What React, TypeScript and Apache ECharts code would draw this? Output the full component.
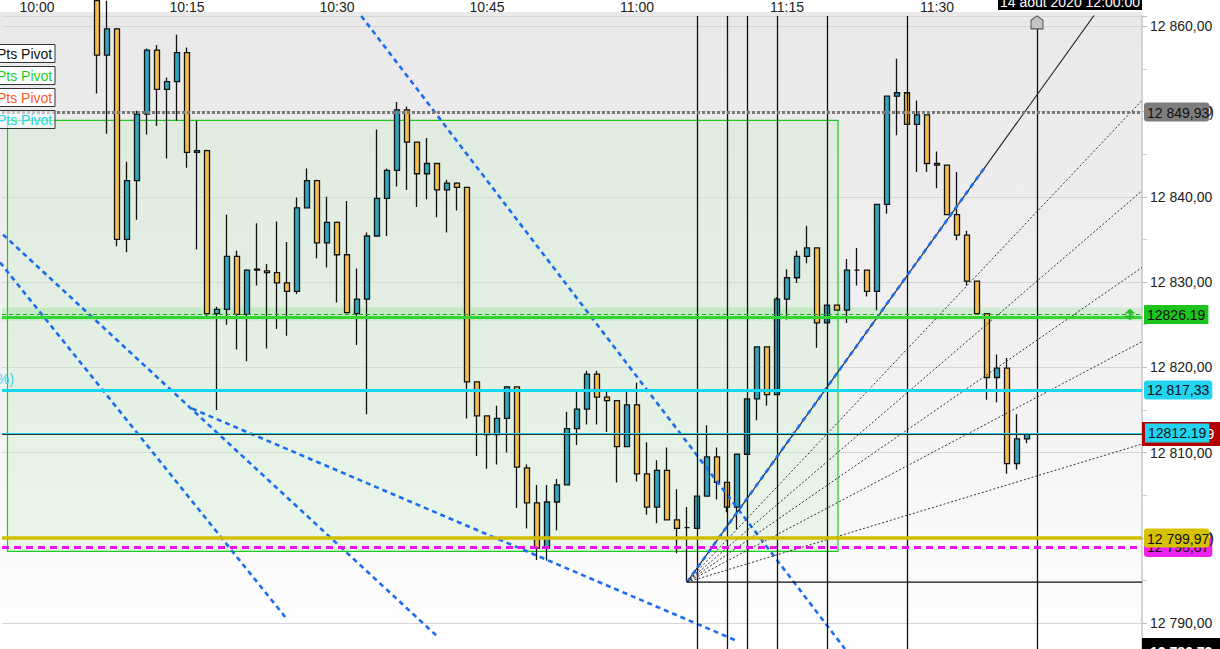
import React, { useEffect, useRef } from "react";
import * as echarts from "echarts";

const FONT = "'Liberation Sans', Arial, sans-serif";

// ---- time axis (minutes of the day) ----
const axisFirstMinute = 9 * 60 + 57;
const axisLastMinute = 11 * 60 + 50;
const candleFirstMinute = 10 * 60 + 6;
const timeLabels = ["10:00", "10:15", "10:30", "10:45", "11:00", "11:15", "11:30"];

// ---- 1-minute candles from 10:06 to 11:39 ----
const opens = [
  12863.0, 12856.6, 12859.7, 12835.0, 12841.9, 12849.7, 12857.2, 12852.6, 12853.5, 12856.9,
  12845.2, 12845.4, 12826.3, 12826.8, 12833.0, 12826.2, 12831.4, 12831.3, 12831.1, 12829.9,
  12828.9, 12838.7, 12841.9, 12834.6, 12837.0, 12833.2, 12826.3, 12828.0, 12835.4, 12839.8,
  12843.1, 12850.2, 12846.4, 12842.7, 12843.9, 12840.8, 12841.6, 12841.1, 12818.3, 12814.3,
  12812.1, 12814.0, 12817.7, 12808.2, 12804.1, 12798.8, 12804.2, 12806.2, 12812.8, 12815.1,
  12819.2, 12816.5, 12816.1, 12810.7, 12815.6, 12807.5, 12803.6, 12807.9, 12802.1, 12801.2,
  12801.1, 12804.9, 12809.5, 12806.5, 12803.6, 12809.8, 12816.3, 12822.4, 12816.8, 12828.0,
  12830.5, 12833.0, 12834.0, 12825.2, 12827.3, 12826.7, 12831.4, 12831.4, 12828.9, 12839.1,
  12851.8, 12852.2, 12848.5, 12849.6, 12843.9, 12843.7, 12837.9, 12835.5, 12830.1, 12826.3,
  12818.8, 12819.9, 12808.7, 12811.6,
];
const highs = [
  12865.0, 12863.0, 12859.8, 12844.1, 12850.1, 12857.4, 12857.8, 12854.0, 12859.0, 12857.5,
  12848.9, 12845.5, 12827.1, 12837.9, 12833.7, 12831.5, 12836.9, 12832.1, 12837.1, 12834.7,
  12839.9, 12843.3, 12842.0, 12840.0, 12837.1, 12839.5, 12831.6, 12835.8, 12847.9, 12843.3,
  12851.1, 12850.6, 12846.4, 12846.9, 12843.9, 12842.0, 12841.7, 12841.1, 12818.3, 12814.3,
  12815.5, 12817.8, 12817.7, 12808.6, 12806.2, 12806.2, 12806.9, 12814.8, 12817.3, 12819.6,
  12819.6, 12817.2, 12816.1, 12817.2, 12818.2, 12811.2, 12809.1, 12810.6, 12805.7, 12803.6,
  12804.9, 12813.2, 12810.6, 12806.5, 12809.8, 12816.3, 12822.4, 12822.4, 12828.2, 12831.5,
  12833.7, 12836.6, 12834.0, 12827.3, 12827.3, 12832.7, 12834.0, 12831.4, 12839.1, 12851.8,
  12856.2, 12852.2, 12851.3, 12849.6, 12845.3, 12843.7, 12842.9, 12836.0, 12830.1, 12826.3,
  12821.5, 12821.1, 12814.5, 12812.2,
];
const lows = [
  12852.1, 12847.4, 12834.2, 12833.5, 12837.3, 12847.3, 12848.3, 12844.5, 12848.9, 12843.4,
  12833.8, 12826.0, 12815.0, 12825.0, 12822.1, 12820.7, 12829.6, 12822.2, 12824.5, 12823.7,
  12828.6, 12838.7, 12832.8, 12831.7, 12827.6, 12826.3, 12822.6, 12814.5, 12835.4, 12835.4,
  12841.2, 12840.8, 12838.8, 12839.7, 12837.6, 12835.8, 12838.4, 12814.0, 12809.6, 12808.1,
  12808.6, 12810.0, 12803.5, 12801.1, 12797.4, 12797.3, 12800.9, 12806.2, 12810.9, 12813.3,
  12813.3, 12812.4, 12806.5, 12810.7, 12806.6, 12802.7, 12801.7, 12802.1, 12798.2, 12794.8,
  12801.1, 12804.9, 12804.5, 12803.0, 12801.0, 12809.8, 12813.8, 12815.5, 12816.8, 12825.6,
  12829.9, 12832.2, 12822.3, 12825.2, 12826.7, 12825.2, 12829.6, 12828.3, 12826.7, 12838.0,
  12847.2, 12848.5, 12842.9, 12842.9, 12841.0, 12837.9, 12834.9, 12829.6, 12826.3, 12816.2,
  12815.9, 12807.5, 12808.0, 12811.1,
];
const closes = [
  12856.6, 12859.7, 12835.0, 12841.9, 12849.7, 12857.2, 12852.6, 12853.5, 12856.9, 12845.2,
  12845.4, 12826.3, 12826.8, 12833.0, 12826.2, 12831.4, 12831.5, 12831.1, 12829.9, 12828.9,
  12838.7, 12841.9, 12834.6, 12837.0, 12833.2, 12826.4, 12828.0, 12835.4, 12839.8, 12843.1,
  12850.2, 12846.4, 12842.7, 12843.9, 12840.8, 12841.6, 12841.1, 12818.3, 12814.3, 12812.1,
  12814.0, 12817.7, 12808.3, 12804.1, 12798.8, 12804.2, 12806.2, 12812.8, 12815.1, 12819.2,
  12816.5, 12816.1, 12810.7, 12815.6, 12807.5, 12803.6, 12807.9, 12802.1, 12801.1, 12801.2,
  12804.9, 12809.5, 12806.5, 12803.6, 12809.8, 12816.3, 12822.4, 12816.8, 12828.0, 12830.5,
  12833.0, 12834.0, 12825.2, 12827.3, 12826.7, 12831.4, 12831.4, 12828.9, 12839.1, 12851.8,
  12852.2, 12848.5, 12849.6, 12843.9, 12843.7, 12837.9, 12835.5, 12830.1, 12826.3, 12818.8,
  12819.9, 12808.7, 12811.6, 12812.2,
];

// ---- price levels ----
const grayPivot = 12849.93;
const greenDashedLevel = 12826.19;
const greenSolidLevel = 12825.9;
const greenBand = [12825.5, 12827.0];
const cyanLevel = 12817.33;
const cyanThinLevel = 12812.3;
const lastPrice = 12812.19;
const yellowLevel = 12799.97;
const magentaLevel = 12798.87;
const bottomPrice = "12 786,73";
const dateLabel = "14 août 2020 12:00:00";

// ---- drawings (x in minutes after 10:00, y in price) ----
const greenBox = [[-2.95, 12848.96], [80.1, 12798.4]];
const blueLines = [
  [[32.43, 12861.2], [80.8, 12786.96]],
  [[-3.7, 12832.3], [25.0, 12790.45]],
  [[-3.4, 12835.56], [40.0, 12788.47]],
  [[15.5, 12815.16], [69.8, 12788.01]],
];
const fanOrigin = [65, 12794.8];
const fanBlueEnd = [94.9, 12843.64];
const fanMainEnd = [110.5, 12869.1];
const fanEndTime = 110.5;
const fanDottedEnds = [12851.3, 12840.7, 12831.7, 12823.0, 12811.0];
const fibTimes = [66, 69, 71, 74, 79, 87, 100];
const legendLabels = ["Pts Pivot", "Pts Pivot", "Pts Pivot", "Pts Pivot"];
const legendColors = ["#111111", "#1fcf1f", "#ff5a1f", "#22d6ee"];

// ---- axis extents ----
const yMin = 12786.96;
const yMax = 12861.2;
const xValueMin = -3.5;
const xValueMax = 110.5;

const pad = (n: number) => (n < 10 ? "0" + n : "" + n);
const fmtTime = (m: number) => `${Math.floor(m / 60)}:${pad(m % 60)}`;
const fmtPrice = (v: number) => {
  const [i, d] = v.toFixed(2).split(".");
  return i.replace(/\B(?=(\d{3})+(?!\d))/g, " ") + "," + d;
};

const categories: string[] = [];
for (let m = axisFirstMinute; m <= axisLastMinute; m++) categories.push(fmtTime(m));
const candleData = categories.map((_, i) => {
  const k = i - (candleFirstMinute - axisFirstMinute);
  return k >= 0 && k < opens.length ? [opens[k], closes[k], lows[k], highs[k]] : "-";
});

function lineSeries(points: number[][], lineStyle: any, z = 3) {
  return {
    type: "line",
    xAxisIndex: 1,
    yAxisIndex: 0,
    data: points,
    symbol: "none",
    silent: true,
    clip: true,
    z,
    lineStyle,
  };
}

function hLine(value: number, lineStyle: any, label: any, z: number) {
  return {
    type: "line",
    xAxisIndex: 1,
    yAxisIndex: 0,
    data: [],
    silent: true,
    markLine: {
      symbol: ["none", "none"],
      silent: true,
      animation: false,
      z,
      lineStyle,
      label: label
        ? { show: true, position: "end", distance: 2, fontFamily: FONT, fontSize: 14, ...label }
        : { show: false },
      data: [{ yAxis: value }],
    },
  };
}

export default function App() {
  const ref = useRef<HTMLDivElement>(null);
  useEffect(() => {
    const chart = echarts.init(ref.current!, null, { renderer: "svg" });
    const graphic: any[] = [];
    graphic.push({
      type: "rect",
      z: -10,
      silent: true,
      shape: { x: 0, y: 12, width: 1142, height: 637 },
      style: {
        fill: new echarts.graphic.LinearGradient(0, 0, 0, 1, [
          { offset: 0, color: "#e9e9e9" },
          { offset: 0.55, color: "#f1f1f1" },
          { offset: 1, color: "#ffffff" },
        ]),
      },
    });
    legendLabels.forEach((t, i) => {
      graphic.push({
        type: "rect",
        z: 100,
        shape: { x: -10, y: 44.5 + 22 * i, width: 65, height: 18 },
        style: { fill: i === 3 ? "rgba(255,255,255,0.55)" : "#ffffff", stroke: "#333", lineWidth: 1 },
      });
      graphic.push({
        type: "text",
        z: 101,
        x: -3,
        y: 53.5 + 22 * i,
        style: { text: t, fill: legendColors[i], font: `14px ${FONT}`, verticalAlign: "middle" },
      });
    });
    graphic.push({
      type: "text",
      z: 101,
      x: -3,
      y: 379,
      style: { text: "%)", fill: "#3fd6f0", font: `14px ${FONT}`, verticalAlign: "middle" },
    });
    graphic.push({ type: "rect", z: 100, shape: { x: 998, y: -10, width: 144, height: 20 }, style: { fill: "#000" } });
    graphic.push({
      type: "text",
      z: 101,
      x: 1070,
      y: 2,
      style: { text: dateLabel, fill: "#fff", font: `14px ${FONT}`, align: "center", verticalAlign: "middle" },
    });
    graphic.push({ type: "rect", z: 100, shape: { x: 1142, y: 638, width: 78, height: 22 }, style: { fill: "#000" } });
    graphic.push({
      type: "text",
      z: 101,
      x: 1150,
      y: 652,
      style: { text: bottomPrice, fill: "#fff", font: `bold 14px ${FONT}`, verticalAlign: "middle" },
    });

    const series: any[] = [
      {
        type: "line",
        xAxisIndex: 1,
        yAxisIndex: 0,
        data: [],
        silent: true,
        markArea: {
          silent: true,
          z: 1,
          data: [
            [
              { coord: greenBox[0], itemStyle: { color: "rgba(200,238,200,0.35)", borderColor: "#22c822", borderWidth: 1.2 } },
              { coord: greenBox[1] },
            ],
            [{ yAxis: greenBand[0], itemStyle: { color: "rgba(60,210,60,0.18)" } }, { yAxis: greenBand[1] }],
          ],
        },
      },
      {
        type: "candlestick",
        xAxisIndex: 0,
        yAxisIndex: 0,
        data: candleData,
        barWidth: 5,
        silent: true,
        z: 2,
        clip: true,
        itemStyle: {
          color: "#30a6bf",
          color0: "#f2bf4e",
          borderColor: "#111",
          borderColor0: "#111",
          borderWidth: 1.3,
        },
      },
      ...blueLines.map((pts) => lineSeries(pts, { color: "#1c6df0", width: 2.6, type: [5, 4] })),
      lineSeries([fanOrigin, fanMainEnd], { color: "#222", width: 1.1 }, 4),
      lineSeries([fanOrigin, fanBlueEnd], { color: "#1c6df0", width: 2.6, type: [5, 4] }, 4),
      ...fanDottedEnds.map((p) => lineSeries([fanOrigin, [fanEndTime, p]], { color: "#333", width: 1, type: [2, 2] }, 4)),
      lineSeries([fanOrigin, [fanEndTime, fanOrigin[1]]], { color: "#111", width: 1.2 }, 4),
      {
        type: "line",
        xAxisIndex: 1,
        yAxisIndex: 0,
        data: [],
        silent: true,
        markLine: {
          symbol: ["none", "none"],
          silent: true,
          z: 4,
          label: { show: false },
          lineStyle: { color: "#111", width: 1.3, type: "solid" },
          data: fibTimes.map((t) => ({ xAxis: t })),
        },
        markPoint: {
          silent: true,
          z: 6,
          label: { show: false },
          data: [
            {
              coord: [fibTimes[fibTimes.length - 1], 12860.45],
              symbol: "path://M0,4 L5,0 L10,4 L10,12 L0,12 Z",
              symbolSize: [12, 13],
              itemStyle: { color: "#c4c4c4", borderColor: "#555", borderWidth: 1 },
            },
            {
              coord: [109.3, greenDashedLevel],
              symbol: "path://M5,0 L10,5 L6,5 L6,7 L10,7 L5,12 L0,7 L4,7 L4,5 L0,5 Z",
              symbolSize: [11, 12],
              itemStyle: { color: "#2bc02b" },
            },
          ],
        },
      },
      hLine(grayPivot, { color: "#7a7a7a", width: 3, type: [3, 2] }, {
        formatter: `{a|${fmtPrice(grayPivot)}}{b|)}`,
        rich: {
          a: { backgroundColor: "#7d7d7d", color: "#111", padding: [3, 0, 2, 3], borderRadius: 3, fontSize: 14, fontFamily: FONT },
          b: { color: "#111", fontSize: 14, fontFamily: FONT },
        },
      }, 6),
      hLine(greenDashedLevel, { color: "#22a522", width: 1, type: [4, 3] }, {
        formatter: "12826.19",
        backgroundColor: "#1ec41e",
        color: "#111",
        padding: [3, 3, 2, 3],
      }, 6),
      hLine(greenSolidLevel, { color: "#33d633", width: 3, type: "solid" }, null, 5),
      hLine(cyanLevel, { color: "#14d6ef", width: 3, type: "solid" }, {
        formatter: fmtPrice(cyanLevel),
        backgroundColor: "#22d3f2",
        color: "#111",
        padding: [3, 3, 2, 3],
        borderRadius: 3,
      }, 6),
      hLine(lastPrice, { color: "#333", width: 1.2, type: "solid" }, {
        formatter: fmtPrice(lastPrice),
        backgroundColor: "#b00000",
        color: "#fff",
        distance: 0,
        padding: [5, 10, 5, 10],
      }, 6),
      hLine(cyanThinLevel, { color: "#22cbe6", width: 1, type: "solid" }, {
        formatter: "12812.19",
        backgroundColor: "#22d3f2",
        color: "#111",
        distance: 3,
        padding: [3, 3, 2, 3],
      }, 7),
      hLine(magentaLevel, { color: "#ee11ee", width: 3, type: [7, 5] }, {
        formatter: fmtPrice(magentaLevel),
        backgroundColor: "#ee22ee",
        color: "#111",
        padding: [3, 3, 2, 3],
        borderRadius: 3,
      }, 6),
      hLine(yellowLevel, { color: "#d2be00", width: 3.5, type: "solid" }, {
        formatter: `{a|${fmtPrice(yellowLevel)}}{b|)}`,
        rich: {
          a: { backgroundColor: "#d6c200", color: "#111", padding: [3, 0, 2, 3], borderRadius: 3, fontSize: 14, fontFamily: FONT },
          b: { color: "#111", fontSize: 14, fontFamily: FONT },
        },
      }, 7),
    ];

    chart.setOption({
      animation: false,
      backgroundColor: "#ffffff",
      textStyle: { fontFamily: FONT },
      grid: {
        left: 2,
        right: 78,
        top: 12,
        bottom: 0,
        show: false,
      },
      xAxis: [
        {
          type: "category",
          data: categories,
          position: "top",
          boundaryGap: true,
          axisLine: { show: true, onZero: false, lineStyle: { color: "#d6d6d6", width: 1 } },
          axisTick: { show: false },
          splitLine: { show: false },
          axisLabel: {
            interval: (_i: number, v: string) => timeLabels.includes(v),
            color: "#222",
            fontSize: 14,
            fontFamily: FONT,
            margin: 2,
          },
        },
        { type: "value", min: xValueMin, max: xValueMax, show: false },
      ],
      yAxis: {
        type: "value",
        position: "right",
        min: yMin,
        max: yMax,
        minInterval: 10,
        maxInterval: 10,
        scale: true,
        axisLine: { show: true, onZero: false, lineStyle: { color: "#d4d4d4", width: 2 } },
        axisTick: { show: true, length: 5, lineStyle: { color: "#bbb" } },
        minorTick: { show: true, splitNumber: 2, length: 5, lineStyle: { color: "#ccc" } },
        splitLine: { show: true, lineStyle: { color: "#d6d6d6", width: 1 } },
        axisLabel: {
          showMinLabel: false,
          showMaxLabel: false,
          color: "#222",
          fontSize: 14,
          fontFamily: FONT,
          margin: 8,
          formatter: (v: number) => fmtPrice(v),
        },
      },
      graphic,
      series,
    });
    return () => chart.dispose();
  }, []);
  return <div ref={ref} style={{ position: "fixed", left: 0, top: 0, width: 1220, height: 649 }} />;
}
